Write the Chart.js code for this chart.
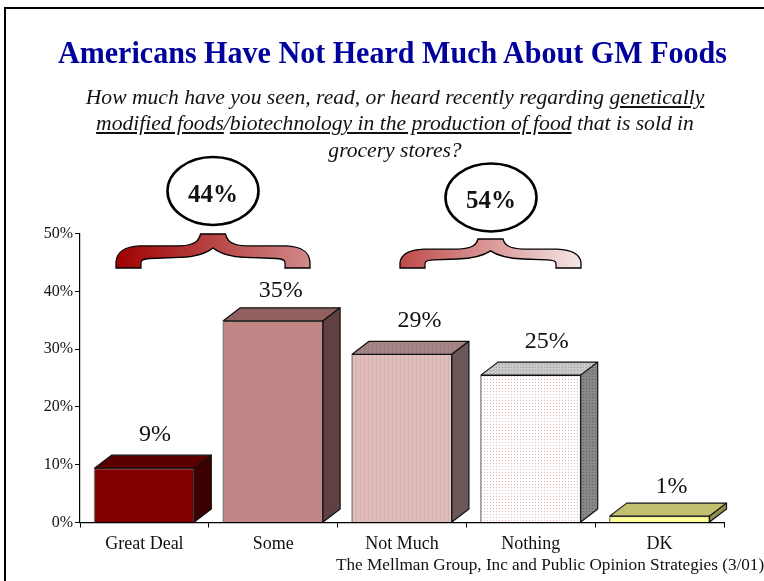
<!DOCTYPE html>
<html>
<head>
<meta charset="utf-8">
<script src="https://cdn.jsdelivr.net/npm/chart.js@4"></script>
<style>
  html, body { margin: 0; padding: 0; background: #fff; }
  #page { position: relative; width: 764px; height: 581px; overflow: hidden; font-family: "Liberation Serif", serif; color: #111; }
  #frame { position: absolute; left: 4px; top: 7px; width: 770px; height: 590px; border-left: 2px solid #000; border-top: 2px solid #000; }
  #title { position: absolute; left: 0; width: 785px; top: 35px; text-align: center; font-size: 31px; font-weight: bold; color: #00009c; white-space: nowrap; transform: scaleX(0.97); }
  #question { position: absolute; left: 10px; width: 770px; top: 84px; text-align: center; font-size: 21.6px; line-height: 26.4px; font-style: italic; white-space: nowrap; }
  #source { position: absolute; left: 336px; top: 555px; font-size: 17.2px; white-space: nowrap; }
  canvas { position: absolute; left: 0; top: 0; }
</style>
</head>
<body>
<div id="page">
  <canvas id="myChart" width="764" height="581"></canvas>
  <div id="frame"></div>
  <div id="title">Americans Have Not Heard Much About GM Foods</div>
  <div id="question">How much have you seen, read, or heard recently regarding <u>genetically</u><br><u>modified foods</u>/<u>biotechnology in the production of food</u> that is sold in<br>grocery stores?</div>
  <div id="source">The Mellman Group, Inc and Public Opinion Strategies (3/01)</div>
</div>
<script>
'use strict';
let categories = ['Great Deal', 'Some', 'Not Much', 'Nothing', 'DK'];
let barValues = [9.4, 34.9, 29.1, 25.5, 1.1];
let barLabels = ['9%', '35%', '29%', '25%', '1%'];
let yTicks = [0, 10, 20, 30, 40, 50];
let groupLabels = ['44%', '54%'];

// little repeating tiles for the bar fills
function tile(base, dot, size, cells) {
    let c = document.createElement('canvas');
    c.width = size;
    c.height = size;
    let t = c.getContext('2d');
    t.fillStyle = base;
    t.fillRect(0, 0, size, size);
    t.fillStyle = dot;
    cells.forEach(function (p) { t.fillRect(p[0], p[1], 1, 1); });
    return t.createPattern(c, 'repeat');
}

let ctxMain = document.getElementById('myChart').getContext('2d');
let dots = [[0, 0], [2, 2]];
let stripes = [[0, 0], [0, 1], [0, 2], [0, 3]];
let sparse = [[1, 1]];
let frontFills = [
    '#800000',
    tile('#c38686', '#bb7e7e', 4, dots),
    tile('#e0bcbc', '#d8aeae', 4, stripes),
    tile('#ffffff', '#eeb8b8', 3, sparse),
    '#ffff99'
];
let topFills = [
    '#5a0000',
    tile('#926262', '#8a5c5c', 4, dots),
    tile('#a48484', '#9c7c7c', 4, stripes),
    tile('#c8c8c8', '#a0a0a0', 3, sparse),
    '#c0c070'
];
let sideFills = [
    '#3c0000',
    '#604040',
    '#6c5858',
    tile('#888888', '#626262', 3, sparse),
    '#8f8f50'
];

const depthX = 17;
const depthY = 13;
// hand nudges for the value labels, relative to the bar they belong to
const labelDx = [10.5, 7.5, 17.5, 16, 12];
const labelDy = [27, 24, 27, 27, 23];

// top and side faces of the boxes, taken from where the library put each bar
let boxFaces = {
    id: 'boxFaces',
    afterDatasetsDraw(chart) {
        let ctx = chart.ctx;
        chart.getDatasetMeta(0).data.forEach(function (bar, i) {
            let l = bar.x - bar.width / 2;
            let r = bar.x + bar.width / 2;
            let t = bar.y;
            let b = bar.base;
            ctx.save();
            ctx.strokeStyle = '#111';
            ctx.lineWidth = 1.2;
            ctx.lineJoin = 'round';
            ctx.beginPath();
            ctx.moveTo(l, t);
            ctx.lineTo(l + depthX, t - depthY);
            ctx.lineTo(r + depthX, t - depthY);
            ctx.lineTo(r, t);
            ctx.closePath();
            ctx.fillStyle = topFills[i];
            ctx.fill();
            ctx.stroke();
            ctx.beginPath();
            ctx.moveTo(r, t);
            ctx.lineTo(r + depthX, t - depthY);
            ctx.lineTo(r + depthX, b - depthY);
            ctx.lineTo(r, b);
            ctx.closePath();
            ctx.fillStyle = sideFills[i];
            ctx.fill();
            ctx.stroke();
            // grey left edge
            ctx.strokeStyle = '#777';
            ctx.beginPath();
            ctx.moveTo(l, t + 1);
            ctx.lineTo(l, b);
            ctx.stroke();
            ctx.fillStyle = '#111';
            ctx.font = '24px "Liberation Serif"';
            ctx.textAlign = 'center';
            ctx.textBaseline = 'alphabetic';
            ctx.fillText(barLabels[i], bar.x + labelDx[i], t - labelDy[i]);
            ctx.restore();
        });
    }
};

// curly brace, mirrored about cx
function drawBrace(ctx, cx, top, bottom, half, c1, c2) {
    let h = bottom - top;
    let y = function (f) { return top + f * h; };
    let gr = ctx.createLinearGradient(cx - half, 0, cx + half, 0);
    gr.addColorStop(0, c1);
    gr.addColorStop(1, c2);
    ctx.save();
    ctx.beginPath();
    ctx.moveTo(cx - half, bottom);
    ctx.lineTo(cx - half, y(0.82));
    ctx.bezierCurveTo(cx - half + 1, y(0.5), cx - half + 9, y(0.37), cx - half + 24, y(0.35));
    ctx.lineTo(cx - 33, y(0.35));
    ctx.bezierCurveTo(cx - 18, y(0.33), cx - 14, y(0.2), cx - 12.5, top);
    ctx.lineTo(cx + 12.5, top);
    ctx.bezierCurveTo(cx + 14, y(0.2), cx + 18, y(0.33), cx + 33, y(0.35));
    ctx.lineTo(cx + half - 24, y(0.35));
    ctx.bezierCurveTo(cx + half - 9, y(0.37), cx + half - 1, y(0.5), cx + half, y(0.82));
    ctx.lineTo(cx + half, bottom);
    ctx.lineTo(cx + half - 25, bottom);
    ctx.bezierCurveTo(cx + half - 25, y(0.82), cx + half - 23, y(0.74), cx + half - 34, y(0.72));
    ctx.lineTo(cx + 33, y(0.69));
    ctx.bezierCurveTo(cx + 18, y(0.67), cx + 8, y(0.6), cx, y(0.41));
    ctx.bezierCurveTo(cx - 8, y(0.6), cx - 18, y(0.67), cx - 33, y(0.69));
    ctx.lineTo(cx - half + 34, y(0.72));
    ctx.bezierCurveTo(cx - half + 23, y(0.74), cx - half + 25, y(0.82), cx - half + 25, bottom);
    ctx.closePath();
    ctx.fillStyle = gr;
    ctx.fill();
    ctx.strokeStyle = '#000';
    ctx.lineWidth = 1.3;
    ctx.stroke();
    ctx.restore();
}

function drawOval(ctx, cx, cy, text) {
    ctx.save();
    ctx.beginPath();
    ctx.ellipse(cx, cy, 45.5, 34, 0, 0, Math.PI * 2);
    ctx.fillStyle = '#fff';
    ctx.fill();
    ctx.lineWidth = 2.6;
    ctx.strokeStyle = '#000';
    ctx.stroke();
    ctx.fillStyle = '#111';
    ctx.font = 'bold 25px "Liberation Serif"';
    ctx.textAlign = 'center';
    ctx.textBaseline = 'alphabetic';
    ctx.fillText(text, cx, cy + 10.5);
    ctx.restore();
}

let groupMarks = {
    id: 'groupMarks',
    afterDraw(chart) {
        let ctx = chart.ctx;
        drawBrace(ctx, 213, 234, 268, 97, '#a00000', '#d08a8a');
        drawBrace(ctx, 490.5, 239, 268, 90.5, '#c04a4a', '#f5e6e6');
        drawOval(ctx, 213, 191, groupLabels[0]);
        drawOval(ctx, 491, 197.5, groupLabels[1]);
    }
};

let chart = new Chart(ctxMain, {
    type: 'bar',
    data: {
        labels: categories,
        datasets: [{
            data: barValues,
            backgroundColor: frontFills,
            borderColor: '#111',
            borderWidth: { top: 1, right: 1, left: 0, bottom: 0 },
            borderSkipped: false,
            categoryPercentage: 1,
            barPercentage: 0.775
        }]
    },
    plugins: [boxFaces, groupMarks],
    options: {
        responsive: false,
        animation: false,
        layout: { padding: { top: 233.5, right: 40, left: 0, bottom: 0 } },
        plugins: { legend: { display: false }, title: { display: false }, tooltip: { enabled: false } },
        scales: {
            x: {
                grid: { drawOnChartArea: false, color: '#000', tickLength: 5 },
                border: { color: '#000', width: 1.2 },
                ticks: { color: '#111', font: { family: 'Liberation Serif', size: 18 }, padding: 6, maxRotation: 0 },
                afterFit(scale) { scale.height = 58.5; }
            },
            y: {
                min: 0,
                max: 50,
                afterBuildTicks(scale) { scale.ticks = yTicks.map(function (v) { return { value: v }; }); },
                grid: { drawOnChartArea: false, color: '#000', tickLength: 5 },
                border: { color: '#000', width: 1.2 },
                ticks: { color: '#111', font: { family: 'Liberation Serif', size: 16 }, padding: 2, callback: function (v) { return v + '%'; } },
                afterFit(scale) { scale.width = 80; }
            }
        }
    }
});
</script>
</body>
</html>
